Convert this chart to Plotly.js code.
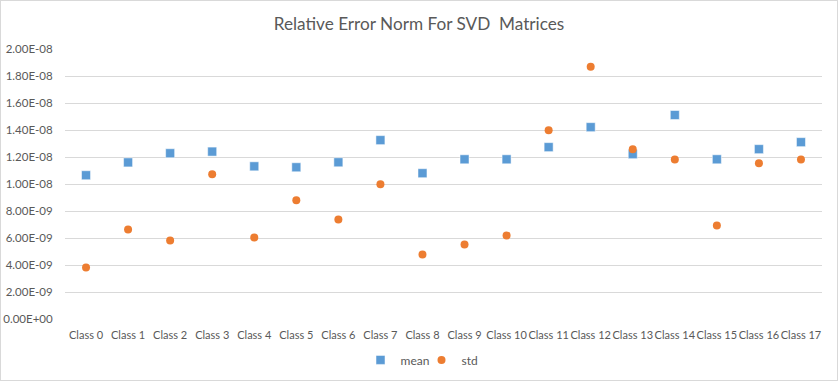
<!DOCTYPE html>
<html>
<head>
<meta charset="utf-8">
<script src="https://cdn.plot.ly/plotly-3.0.1.min.js"></script>
<style>
html,body{margin:0;padding:0;background:#fff;}
#frame{width:838px;height:381px;box-sizing:border-box;border:1px solid #d9d9d9;overflow:hidden;}
#chart{width:836px;height:379px;}
</style>
</head>
<body>
<div id="frame"><div id="chart"></div></div>
<script>
const categories = ["Class 0","Class 1","Class 2","Class 3","Class 4","Class 5","Class 6","Class 7","Class 8","Class 9","Class 10","Class 11","Class 12","Class 13","Class 14","Class 15","Class 16","Class 17"];
const meanValues = [1.065e-8,1.16e-8,1.228e-8,1.24e-8,1.131e-8,1.124e-8,1.161e-8,1.325e-8,1.08e-8,1.183e-8,1.183e-8,1.273e-8,1.421e-8,1.221e-8,1.511e-8,1.183e-8,1.258e-8,1.31e-8];
const stdValues = [3.81e-9,6.63e-9,5.81e-9,1.072e-8,6.04e-9,8.79e-9,7.37e-9,9.98e-9,4.77e-9,5.52e-9,6.19e-9,1.399e-8,1.868e-8,1.258e-8,1.181e-8,6.93e-9,1.154e-8,1.181e-8];
const yTickVals = [0,2e-9,4e-9,6e-9,8e-9,1e-8,1.2e-8,1.4e-8,1.6e-8,1.8e-8,2e-8];
const yTickText = ["0.00E+00","2.00E-09","4.00E-09","6.00E-09","8.00E-09","1.00E-08","1.20E-08","1.40E-08","1.60E-08","1.80E-08","2.00E-08"];

const txtColor = "#595959";
const traces = [
  {x: categories, y: meanValues, name: "mean", type: "scatter", mode: "markers",
   marker: {symbol: "square", size: 9, color: "#5B9BD5", line: {width: 0.5, color: "#ffffff"}}},
  {x: categories, y: stdValues, name: "std", type: "scatter", mode: "markers",
   marker: {symbol: "circle", size: 8, color: "#ED7D31", line: {width: 0}}}
];
const layout = {
  width: 836, height: 379,
  margin: {l: 64, r: 15, t: 48, b: 61},
  paper_bgcolor: "#ffffff", plot_bgcolor: "#ffffff",
  font: {family: "Lato, 'Open Sans', sans-serif", size: 12, color: txtColor},
  title: {text: "Relative Error Norm For SVD&nbsp; Matrices", font: {size: 17.2, color: txtColor, family: "Lato, 'Open Sans', sans-serif"},
          x: 0.5, xanchor: "center", y: 0.94, yanchor: "middle"},
  xaxis: {type: "category", showgrid: false, zeroline: false, showline: false,
          ticks: "outside", ticklen: 6, tickcolor: "rgba(0,0,0,0)", tickangle: 0,
          tickfont: {size: 11, color: txtColor}, range: [-0.5, 17.5], fixedrange: true},
  yaxis: {range: [0, 2e-8], tickvals: yTickVals, ticktext: yTickText, showgrid: true,
          gridcolor: "#d9d9d9", gridwidth: 1, zeroline: false, showline: false,
          ticks: "outside", ticklen: 9, tickcolor: "rgba(0,0,0,0)",
          tickfont: {size: 11.5, color: txtColor}, fixedrange: true},
  showlegend: true,
  legend: {orientation: "h", x: 0.503, xanchor: "center", xref: "container",
           y: 0.053, yanchor: "middle", yref: "container",
           font: {size: 12, color: txtColor}, itemwidth: 30, tracegroupgap: 0,
           entrywidth: 16, entrywidthmode: "pixels"},
  hovermode: false
};
Plotly.newPlot("chart", traces, layout, {displayModeBar: false, staticPlot: true});
</script>
</body>
</html>
